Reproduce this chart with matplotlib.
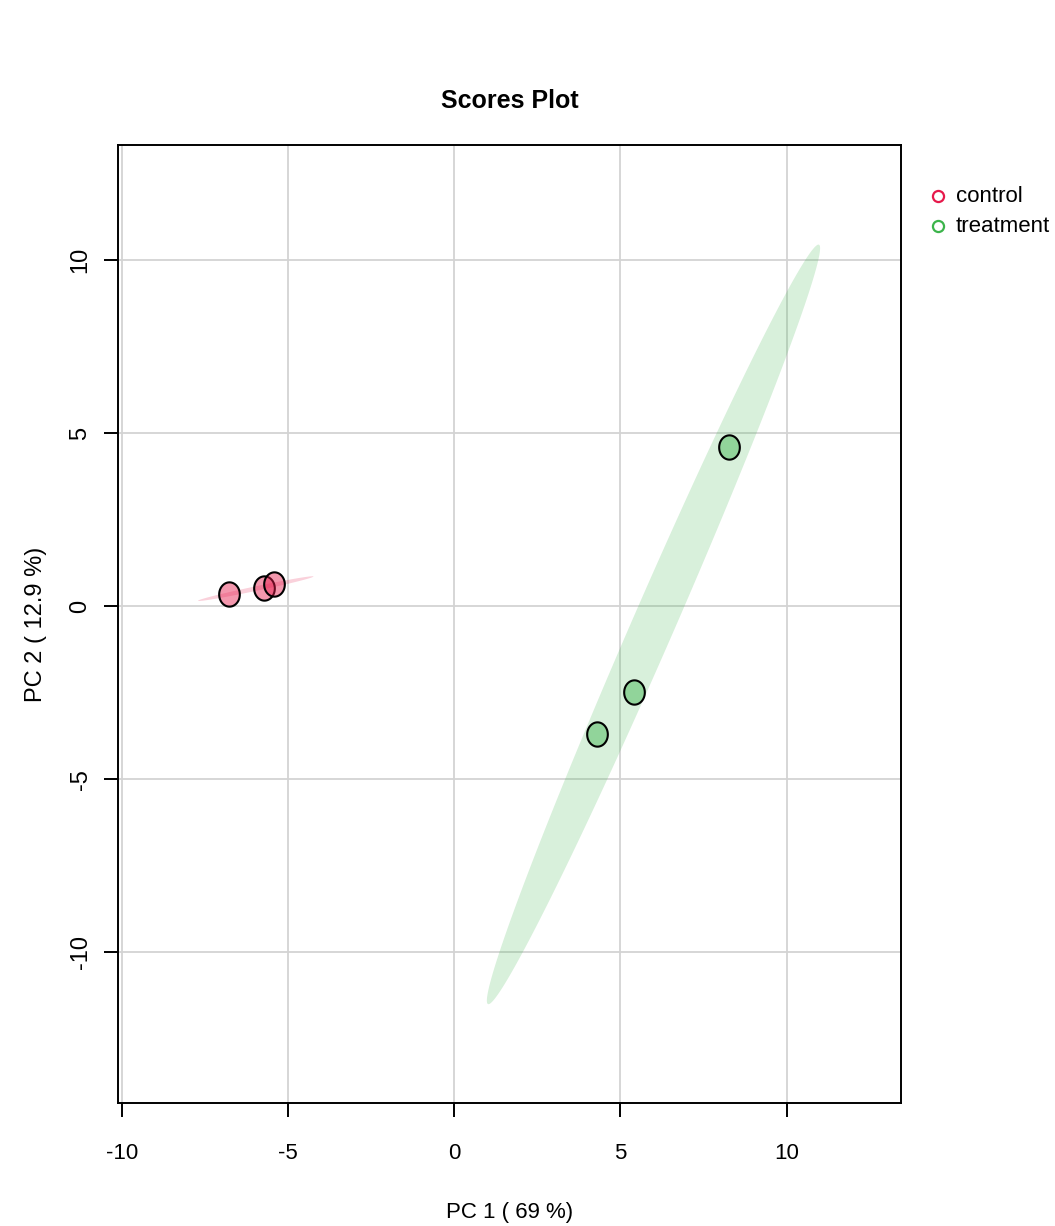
import numpy as np
import matplotlib
matplotlib.use("Agg")
import matplotlib.pyplot as plt
from matplotlib.path import Path

# PCA scores
groups = ["control", "treatment"]
pc1 = {
    "control": [-6.77, -5.74, -5.41],
    "treatment": [8.27, 5.41, 4.30],
}
pc2 = {
    "control": [0.35, 0.52, 0.64],
    "treatment": [4.60, -2.49, -3.70],
}
var_pc1 = 69
var_pc2 = 12.9
ticks = [-10, -5, 0, 5, 10]

colors = {"control": "#E6194B", "treatment": "#3CB44B"}

plt.rcParams["font.family"] = ["Liberation Sans", "DejaVu Sans"]


def conf_ellipse(x, y, t=np.sqrt(5.991), n=200):
    # same parametrisation as R's ellipse::ellipse (level 0.95)
    cov = np.cov(x, y)
    sx, sy = np.sqrt(cov[0, 0]), np.sqrt(cov[1, 1])
    r = cov[0, 1] / (sx * sy)
    d = np.arccos(r)
    a = np.linspace(0, 2 * np.pi, n)
    ex = np.mean(x) + t * sx * np.cos(a + d / 2)
    ey = np.mean(y) + t * sy * np.cos(a - d / 2)
    return ex, ey


# slightly tall oval marker like the reference
th = np.linspace(0, 2 * np.pi, 60)
oval = Path(np.column_stack([0.85 * np.cos(th), np.sin(th)]), closed=True)

fig = plt.figure(figsize=(10.55, 12.26), dpi=100)
ax = fig.add_axes([0.1118, 0.1003, 0.7422, 0.7814])

ax.set_xlim(-10.12, 13.44)
ax.set_ylim(-14.36, 13.32)

for v in ticks:
    ax.axvline(v, color="#D3D3D3", lw=1.3, zorder=0)
    ax.axhline(v, color="#D3D3D3", lw=1.3, zorder=0)

for g in groups:
    ex, ey = conf_ellipse(np.array(pc1[g]), np.array(pc2[g]))
    ax.fill(ex, ey, color=colors[g], alpha=0.2, lw=0, zorder=1)

for g in groups:
    ax.plot(pc1[g], pc2[g], ls="none", marker=oval, ms=17.5,
            mfc=matplotlib.colors.to_rgba(colors[g], 0.45), mec="black",
            mew=1.5, zorder=3)

ax.set_xticks(ticks)
ax.set_yticks(ticks)
ax.set_xticklabels([str(v) for v in ticks], fontsize=16)
ax.set_yticklabels([str(v) for v in ticks], fontsize=17,
                   rotation=90, va="center")
ax.tick_params(axis="x", length=10, width=1.4, pad=19)
ax.tick_params(axis="y", length=10, width=1.4, pad=9)
for s in ax.spines.values():
    s.set_linewidth(1.4)

ax.set_xlabel("PC 1 ( %g %%)" % var_pc1, fontsize=16, va="center")
ax.xaxis.set_label_coords(0.5, -0.1138)
ax.set_ylabel("PC 2 ( %g %%)" % var_pc2, fontsize=17, va="center")
ax.yaxis.set_label_coords(-0.1047, 0.5)
fig.text(0.4829, 0.9176, "Scores Plot", fontsize=18, fontweight="bold",
         ha="center", va="center")

# legend outside on the right
for i, g in enumerate(groups):
    yy = 1 - (196 + 30 * i) / 1226
    fig.lines.append(plt.Line2D([0.889], [yy], transform=fig.transFigure,
                                marker="o", ms=8, mfc="none", mec=colors[g], mew=1.6))
    fig.text(0.906, yy, g, fontsize=16, va="center")

fig.savefig("out.png", dpi=100)
